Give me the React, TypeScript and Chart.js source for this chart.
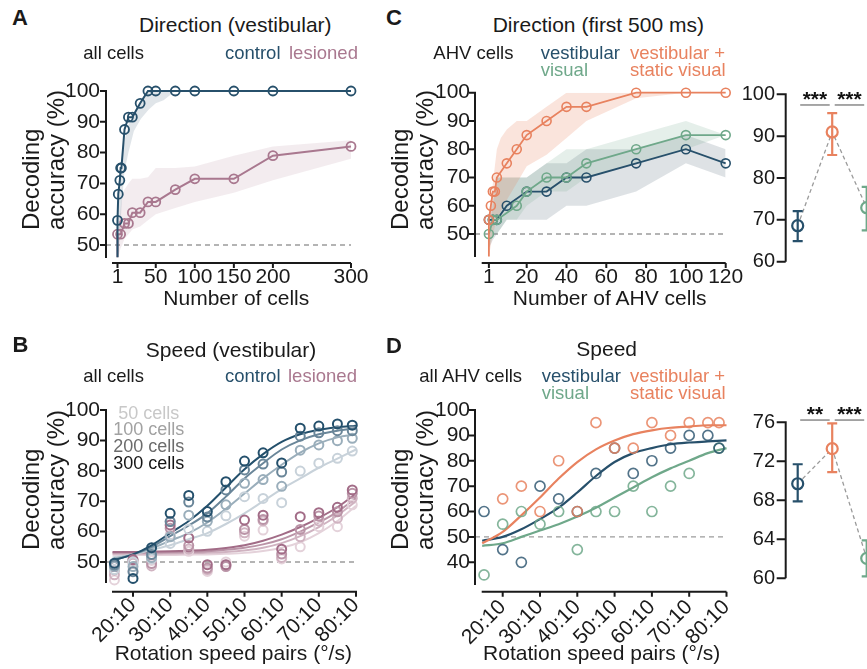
import React, { useEffect, useRef } from 'react';
import { Chart, registerables } from 'chart.js';

Chart.register(...registerables);

const FONT = "'Liberation Sans', Arial, Helvetica, sans-serif";
Chart.defaults.font.family = FONT;

const INK = '#1a1a1a';
const BLUE = '#27506b';
const PINK = '#a9788f';
const ORANGE = '#e8825f';
const GREEN = '#6fa88a';

// ===== Panel A: Direction (vestibular) =====
const aXTicks = [1, 50, 100, 150, 200, 300];
const accTicks = [50, 60, 70, 80, 90, 100];
const aCtrlN = [1, 1, 2, 4, 5, 6, 10, 15, 20, 30, 40, 50, 75, 100, 150, 200, 300];
const aCtrlAcc = [46, 58, 66.5, 71, 75, 75, 87.5, 91.5, 91.5, 96, 100, 100, 100, 100, 100, 100, 100];
const aLesN = [1, 1, 5, 10, 15, 20, 30, 40, 50, 75, 100, 150, 200, 300];
const aLesAcc = [46, 53.5, 53.5, 57, 57, 60.5, 60.5, 64, 64, 68, 71.5, 71.5, 79, 82];
const aCtrlBandN = [1, 2, 4, 6, 10, 15, 22, 31, 41, 50, 60, 75];
const aCtrlBandLo = [46, 47, 52, 62, 74, 80, 87, 91, 94, 96, 97, 100];
const aCtrlBandHi = [47, 60, 70, 77, 84, 89, 93, 97, 100, 100, 100, 100];
const aLesBandN = [1, 3, 5, 7, 10, 15, 20, 30, 40, 50, 75, 100, 150, 200, 300];
const aLesBandLo = [46, 47, 49, 50, 52, 53.5, 55, 56, 58, 60, 62, 64, 67, 71, 78];
const aLesBandHi = [47, 56, 62, 66, 68, 70, 71.5, 71.5, 72, 75, 75, 75.5, 79, 82, 84];

// ===== Panel B: Speed (vestibular) =====
const speedTicks = [20, 30, 40, 50, 60, 70, 80];
const speedTickLabels = ['20:10', '30:10', '40:10', '50:10', '60:10', '70:10', '80:10'];
const bSpeed = [15, 20, 25, 30, 35, 40, 45, 50, 55, 60, 65, 70, 75, 79];
const bCtrl300 = [49.6, 44.6, 54.7, 66, 71.9, 66.6, 76.4, 83.2, 85.9, 82.6, 94, 94.7, 95.4, 95];
const bCtrl200 = [49, 46.8, 52.5, 63.3, 69.7, 64.8, 73.7, 80.3, 82.2, 79.6, 91.4, 92.5, 93.2, 93.2];
const bCtrl100 = [48.5, 48.5, 51.5, 58.3, 65.4, 63.4, 68.8, 75.9, 77.1, 74.9, 86.8, 88.5, 89.9, 90.7];
const bCtrl50 = [47.5, 50, 51, 56.1, 60.8, 60.1, 65.2, 71.5, 70.9, 69.5, 79.9, 82.5, 84.1, 86.5];
const bLes300 = [48.5, 50.8, 51.3, 62.2, 57.9, 49.1, 49.1, 63.8, 65.4, 54.2, 64.9, 66.2, 68, 73.7];
const bLes200 = [47.4, 50.5, 49.5, 61.1, 55.4, 48, 48.5, 60.7, 64, 52.6, 60.7, 65.1, 66.5, 72.6];
const bLes100 = [45.8, 49.6, 48.7, 63.3, 54.3, 47.5, 49, 59.6, 63.5, 51.5, 58.3, 63.5, 64.4, 71];
const bLes50 = [44.1, 47, 50.5, 59, 53.5, 46.9, 50, 58.5, 60.5, 51, 55, 61.6, 61.6, 68.8];
const fitSpeed = [14.5, 20, 25, 30, 35, 40, 45, 50, 55, 60, 65, 70, 75, 80];
const bCtrl300Fit = [50.5, 52.5, 55.5, 59.5, 63.5, 68.5, 74.5, 80.5, 85.5, 89.5, 92, 93.5, 94.3, 94.8];
const bCtrl200Fit = [50.5, 52.5, 55, 58.5, 62, 66, 71.5, 77.5, 82.5, 87, 90, 92, 93.2, 94];
const bCtrl100Fit = [51, 52.5, 54.5, 57, 59.5, 63, 67.5, 72.5, 77.5, 82, 86, 89, 91, 92];
const bCtrl50Fit = [51.5, 52.5, 54, 55.5, 57.5, 59.5, 62.5, 66, 70, 74, 77.5, 81, 84, 87];
const bLes300Fit = [53.3, 53.3, 53.4, 53.5, 53.7, 54, 54.6, 55.5, 57, 59, 61.5, 64.5, 68, 72.5];
const bLes200Fit = [53, 53, 53.1, 53.2, 53.3, 53.5, 54, 54.7, 55.8, 57.5, 60, 63, 66.5, 71];
const bLes100Fit = [52.7, 52.7, 52.7, 52.8, 52.9, 53, 53.3, 53.8, 54.7, 56.2, 58.5, 61.5, 65.3, 70];
const bLes50Fit = [52.3, 52.3, 52.3, 52.3, 52.4, 52.5, 52.7, 53, 53.6, 54.7, 56.5, 59.5, 63.5, 68.5];
const cellCountLabels = ['50 cells', '100 cells', '200 cells', '300 cells'];

// ===== Panel C: Direction (first 500 ms) =====
const cXTicks = [1, 20, 40, 60, 80, 100, 120];
const cOrangeN = [1, 1, 2, 3, 4, 5, 10, 15, 20, 30, 40, 50, 75, 100, 120];
const cOrangeAcc = [42, 55, 60, 65, 65, 70, 75, 80, 85, 90, 95, 95, 100, 100, 100];
const cBlueN = [1, 3, 5, 10, 20, 30, 40, 50, 75, 100, 120];
const cBlueAcc = [55, 55, 55, 60, 65, 65, 70, 70, 75, 80, 75];
const cGreenN = [1, 3, 5, 15, 20, 30, 40, 50, 75, 100, 120];
const cGreenAcc = [50, 55, 55, 60, 65, 70, 70, 75, 80, 85, 85];
const cOrangeBandN = [1, 3, 5, 7, 10, 15, 20, 30, 40, 50, 75, 100, 120];
const cOrangeBandLo = [42, 50, 55, 58, 62, 68, 74, 78, 84, 90, 98, 100, 100];
const cOrangeBandHi = [50, 68, 80, 84, 87, 90, 90, 95, 100, 100, 100, 100, 100];
const cBlueBandN = [1, 3, 5, 10, 20, 30, 40, 50, 75, 100, 120];
const cBlueBandLo = [45, 48, 50, 55, 55, 55, 60, 60, 65, 75, 70];
const cBlueBandHi = [55, 62, 70, 70, 70, 75, 75, 80, 80, 85, 80];
const cGreenBandN = [1, 3, 5, 10, 15, 20, 30, 40, 50, 75, 100, 120];
const cGreenBandLo = [45, 50, 50, 55, 55, 60, 65, 65, 70, 75, 80, 85];
const cGreenBandHi = [50, 60, 70, 70, 70, 70, 75, 80, 80, 85, 90, 85];

// ===== Right summary panels =====
const condIndex = [0, 1, 2];
const condColors = [BLUE, ORANGE, GREEN];
const cRightMean = [68.6, 91, 72.9];
const cRightLo = [64.9, 85.5, 67.5];
const cRightHi = [72.1, 95.5, 77.9];
const cRightTicks = [60, 70, 80, 90, 100];
const cSig = ['***', '***'];
const dRightMean = [69.7, 73.3, 62.05];
const dRightLo = [67.9, 70.9, 60.2];
const dRightHi = [71.7, 75.9, 63.9];
const dRightTicks = [60, 64, 68, 72, 76];
const dSig = ['**', '***'];

// ===== Panel D: Speed =====
const dYTicks = [40, 50, 60, 70, 80, 90, 100];
const dSpeed = [15, 20, 25, 30, 35, 40, 45, 50, 55, 60, 65, 70, 75, 78];
const dBlueAcc = [60, 45, 40, 70, 65, 60, 75, 85, 75, 80, 85, 90, 90, 85];
const dOrangeAcc = [null, 65, 70, 60, 80, 60, 95, 85, 85, 95, 90, 95, 95, 95];
const dGreenAcc = [35, 55, 60, 55, 60, 45, 60, 60, 70, 60, 70, 75, null, 85];
const dOrangeFit = [47.5, 52, 58.5, 65.5, 73, 79.5, 84.5, 88, 90.5, 92, 93, 93.5, 94, 94];
const dBlueFit = [48.5, 50, 53, 57, 61.5, 67.5, 74, 79.5, 83, 85, 86.5, 87.2, 87.6, 88];
const dGreenFit = [46.5, 47.5, 50, 52.5, 55, 58, 61.5, 65.5, 69.5, 73.5, 77, 80, 83, 85];

// ---------- helpers ----------
const pts = (xs: number[], ys: (number | null)[]) =>
  xs.map((x, i) => ({ x, y: ys[i] })).filter((p) => p.y !== null && p.y !== undefined);

const TRANSPARENT = 'rgba(0,0,0,0)';

const lineDs = (xs: number[], ys: number[], color: string, r = 4.5, bw = 2, pbw = 1.8) => ({
  data: pts(xs, ys),
  borderColor: color,
  borderWidth: bw,
  pointRadius: (ctx: any) => (ctx.dataIndex === 0 && ys[0] < ys[1] - 5 ? 0 : r),
  pointBorderWidth: pbw,
  pointBorderColor: color,
  pointBackgroundColor: TRANSPARENT,
  tension: 0,
  fill: false,
  clip: false,
  order: 1,
});

const scatterDs = (xs: number[], ys: (number | null)[], color: string, r = 4.5, pbw = 2) => ({
  data: pts(xs, ys),
  showLine: false,
  pointRadius: r,
  pointBorderWidth: pbw,
  pointBorderColor: color,
  pointBackgroundColor: TRANSPARENT,
  clip: false,
  order: 1,
});

const fitDs = (xs: number[], ys: number[], color: string, bw = 2) => ({
  data: pts(xs, ys),
  borderColor: color,
  borderWidth: bw,
  pointRadius: 0,
  cubicInterpolationMode: 'monotone',
  fill: false,
  clip: false,
  order: 2,
});

const bandDs = (xs: number[], lo: number[], hi: number[], color: string) => [
  { data: pts(xs, lo), borderColor: TRANSPARENT, borderWidth: 0.01, pointRadius: 0, fill: false, clip: false, order: 10 },
  { data: pts(xs, hi), borderColor: TRANSPARENT, borderWidth: 0.01, pointRadius: 0, fill: '-1', backgroundColor: color, clip: false, order: 10 },
];

type Decor = {
  yGap: number;
  yTickLen: number;
  yTicks: number[];
  xGap?: number;
  xTickLen?: number;
  xTicks?: number[];
  ref?: number;
  err?: { x: number[]; lo: number[]; hi: number[]; colors: string[]; cap: number };
  sig?: { y: number; labels: string[] };
};

const decor = (d: Decor) => ({
  id: 'decor',
  beforeDatasetsDraw(chart: any) {
    const { ctx, chartArea: a, scales } = chart;
    if (d.ref !== undefined) {
      const py = scales.y.getPixelForValue(d.ref);
      ctx.save();
      ctx.strokeStyle = '#9c9c9c';
      ctx.lineWidth = 1.3;
      ctx.setLineDash([5, 4]);
      ctx.beginPath();
      ctx.moveTo(a.left - d.yGap, py);
      ctx.lineTo(a.right, py);
      ctx.stroke();
      ctx.restore();
    }
  },
  afterDatasetsDraw(chart: any) {
    const { ctx, chartArea: a, scales } = chart;
    const x = scales.x;
    const y = scales.y;
    ctx.save();
    ctx.strokeStyle = INK;
    ctx.lineWidth = 2;
    const ax = a.left - d.yGap;
    ctx.beginPath();
    ctx.moveTo(ax, a.top - 1);
    ctx.lineTo(ax, a.bottom);
    d.yTicks.forEach((v) => {
      const py = y.getPixelForValue(v);
      ctx.moveTo(ax - d.yTickLen, py);
      ctx.lineTo(ax, py);
    });
    ctx.stroke();
    if (d.xGap !== undefined && d.xTicks) {
      const ay = a.bottom + d.xGap;
      ctx.beginPath();
      ctx.moveTo(a.left, ay);
      ctx.lineTo(a.right, ay);
      d.xTicks.forEach((v) => {
        const px = x.getPixelForValue(v);
        ctx.moveTo(px, ay);
        ctx.lineTo(px, ay + (d.xTickLen || 5));
      });
      ctx.stroke();
    }
    if (d.err) {
      const e = d.err;
      e.x.forEach((xv, i) => {
        const px = x.getPixelForValue(xv);
        const plo = y.getPixelForValue(e.lo[i]);
        const phi = y.getPixelForValue(e.hi[i]);
        ctx.strokeStyle = e.colors[i];
        ctx.lineWidth = 2.2;
        ctx.beginPath();
        ctx.moveTo(px, plo);
        ctx.lineTo(px, phi);
        ctx.moveTo(px - e.cap, plo);
        ctx.lineTo(px + e.cap, plo);
        ctx.moveTo(px - e.cap, phi);
        ctx.lineTo(px + e.cap, phi);
        ctx.stroke();
      });
    }
    if (d.sig && d.err) {
      const py = y.getPixelForValue(d.sig.y);
      d.sig.labels.forEach((lab, i) => {
        const x1 = x.getPixelForValue(d.err!.x[i]) + 2.5;
        const x2 = x.getPixelForValue(d.err!.x[i + 1]) - 2.5;
        ctx.strokeStyle = '#8a8a8a';
        ctx.lineWidth = 1.5;
        ctx.beginPath();
        ctx.moveTo(x1, py);
        ctx.lineTo(x2, py);
        ctx.stroke();
        ctx.fillStyle = '#111';
        ctx.font = `bold 21px ${FONT}`;
        ctx.textAlign = 'center';
        ctx.textBaseline = 'alphabetic';
        ctx.fillText(lab, (x1 + x2) / 2, py + 1);
      });
    }
    ctx.restore();
  },
});

type Cfg = {
  datasets: any[];
  xMin: number;
  xMax: number;
  yMin: number;
  yMax: number;
  xTicks: number[];
  yTicks: number[];
  xLabel?: (v: number) => string;
  rot?: number;
  xPad?: number;
  yPad: number;
  showX?: boolean;
  yFont?: number;
  decor: Decor;
};

function makeConfig(p: Cfg) {
  return {
    type: 'line',
    data: { datasets: p.datasets },
    options: {
      responsive: false,
      maintainAspectRatio: false,
      animation: false,
      events: [],
      plugins: { legend: { display: false }, tooltip: { enabled: false } },
      scales: {
        x: {
          type: 'linear',
          min: p.xMin,
          max: p.xMax,
          grid: { display: false, drawTicks: false },
          border: { display: false },
          afterBuildTicks: (s: any) => {
            s.ticks = p.xTicks.map((v) => ({ value: v }));
          },
          ticks: {
            display: p.showX !== false,
            autoSkip: false,
            minRotation: p.rot || 0,
            maxRotation: p.rot || 0,
            padding: p.xPad ?? 7,
            color: INK,
            font: { size: 21, family: FONT },
            callback: (v: number) => (p.xLabel ? p.xLabel(v) : String(v)),
          },
        },
        y: {
          type: 'linear',
          min: p.yMin,
          max: p.yMax,
          grid: { display: false, drawTicks: false },
          border: { display: false },
          afterBuildTicks: (s: any) => {
            s.ticks = p.yTicks.map((v) => ({ value: v }));
          },
          ticks: {
            autoSkip: false,
            padding: p.yPad,
            color: INK,
            font: { size: p.yFont || 21, family: FONT },
            callback: (v: number) => String(v),
          },
        },
      },
    },
    plugins: [decor(p.decor)],
  };
}

type Box = { L: number; T: number; R: number; B: number };

function ChartCanvas({ box, config }: { box: Box; config: () => any }) {
  const ref = useRef<HTMLCanvasElement | null>(null);
  const left = Math.floor(box.L - 90);
  const top = Math.floor(box.T - 40);
  const width = Math.ceil(box.R + 40) - left;
  const height = Math.ceil(box.B + 100) - top;
  useEffect(() => {
    if (!ref.current) return;
    const cfg = config();
    const yw = box.L - left;
    const pt = box.T - top;
    const pr = left + width - box.R;
    const xh = top + height - box.B;
    cfg.options.layout = { padding: { left: 0, top: pt, right: pr, bottom: 0 } };
    cfg.options.scales.y.afterFit = (s: any) => {
      s.width = yw;
      s.paddingTop = 0;
      s.paddingBottom = 0;
    };
    cfg.options.scales.x.afterFit = (s: any) => {
      s.height = xh;
      s.paddingLeft = 0;
      s.paddingRight = 0;
    };
    const chart = new Chart(ref.current, cfg);
    return () => chart.destroy();
  }, []);
  return (
    <canvas
      ref={ref}
      width={width}
      height={height}
      style={{ position: 'absolute', left, top, width, height }}
    />
  );
}

// ---------- geometry ----------
const boxA: Box = { L: 112, T: 91, R: 351, B: 258 };
const boxB: Box = { L: 112, T: 410, R: 357, B: 583 };
const boxC: Box = { L: 481.7, T: 92.7, R: 725.7, B: 257 };
const boxCR: Box = { L: 790, T: 94.3, R: 900, B: 261.7 };
const boxD: Box = { L: 481.7, T: 410, R: 726.5, B: 585 };
const boxDR: Box = { L: 790, T: 422.3, R: 900, B: 578.3 };

const speedLabel = (v: number) => speedTickLabels[speedTicks.indexOf(v)] || '';

const cfgA = () =>
  makeConfig({
    datasets: [
      lineDs(aCtrlN, aCtrlAcc, BLUE),
      lineDs(aLesN, aLesAcc, PINK),
      ...bandDs(aCtrlBandN, aCtrlBandLo, aCtrlBandHi, 'rgba(60,95,120,0.16)'),
      ...bandDs(aLesBandN, aLesBandLo, aLesBandHi, 'rgba(169,120,143,0.14)'),
    ],
    xMin: -6.04,
    xMax: 300,
    yMin: 45.78,
    yMax: 100,
    xTicks: aXTicks,
    yTicks: accTicks,
    xPad: 7,
    yPad: 12,
    decor: { yGap: 6, yTickLen: 6, yTicks: accTicks, xGap: 5, xTickLen: 5, xTicks: aXTicks, ref: 50 },
  });

const bCtrlColors = ['#24506c', '#6a8699', '#9aaebb', '#c8d2da'];
const bLesColors = ['#a26c87', '#ba94a7', '#d0b3c1', '#e4d2da'];

const cfgB = () => {
  const ctrl = [bCtrl300, bCtrl200, bCtrl100, bCtrl50];
  const ctrlFit = [bCtrl300Fit, bCtrl200Fit, bCtrl100Fit, bCtrl50Fit];
  const les = [bLes300, bLes200, bLes100, bLes50];
  const lesFit = [bLes300Fit, bLes200Fit, bLes100Fit, bLes50Fit];
  const ds: any[] = [];
  for (let i = 0; i < 4; i++) {
    ds.push(fitDs(fitSpeed, ctrlFit[i], bCtrlColors[i]));
    ds.push(scatterDs(bSpeed, ctrl[i], bCtrlColors[i]));
  }
  for (let i = 0; i < 4; i++) {
    ds.push(fitDs(fitSpeed, lesFit[i], bLesColors[i]));
    ds.push(scatterDs(bSpeed, les[i], bLesColors[i]));
  }
  return makeConfig({
    datasets: ds,
    xMin: 14.35,
    xMax: 80.27,
    yMin: 43.09,
    yMax: 100,
    xTicks: speedTicks,
    yTicks: accTicks,
    xLabel: speedLabel,
    rot: 45,
    xPad: 10,
    yPad: 12,
    decor: { yGap: 6, yTickLen: 6, yTicks: accTicks, xGap: 8.7, xTickLen: 5, xTicks: speedTicks, ref: 50 },
  });
};

const cfgC = () =>
  makeConfig({
    datasets: [
      lineDs(cOrangeN, cOrangeAcc, ORANGE, 4.5, 1.8, 1.6),
      lineDs(cGreenN, cGreenAcc, GREEN, 4.5, 1.8, 1.6),
      lineDs(cBlueN, cBlueAcc, BLUE, 4.5, 1.8, 1.6),
      ...bandDs(cOrangeBandN, cOrangeBandLo, cOrangeBandHi, 'rgba(232,130,95,0.22)'),
      ...bandDs(cGreenBandN, cGreenBandLo, cGreenBandHi, 'rgba(111,168,138,0.18)'),
      ...bandDs(cBlueBandN, cBlueBandLo, cBlueBandHi, 'rgba(60,85,100,0.17)'),
    ],
    xMin: -2.61,
    xMax: 120,
    yMin: 41.86,
    yMax: 100,
    xTicks: cXTicks,
    yTicks: accTicks,
    xPad: 8,
    yPad: 11.7,
    decor: { yGap: 6.7, yTickLen: 6, yTicks: accTicks, xGap: 6, xTickLen: 5, xTicks: cXTicks, ref: 50 },
  });

const rightConfig = (mean: number[], lo: number[], hi: number[], ticks: number[], sig: string[], sigY: number) => () =>
  makeConfig({
    datasets: [
      {
        data: pts(condIndex, mean),
        showLine: true,
        borderColor: '#9a9a9a',
        borderDash: [4, 3],
        borderWidth: 1.3,
        pointRadius: 0,
        fill: false,
        clip: false,
        order: 2,
      },
      {
        data: pts(condIndex, mean),
        showLine: false,
        pointRadius: 5.5,
        pointBorderWidth: 2.2,
        pointBorderColor: condColors,
        pointBackgroundColor: '#ffffff',
        clip: false,
        order: 1,
      },
    ],
    xMin: -0.2232,
    xMax: 2.965,
    yMin: ticks[0],
    yMax: ticks[ticks.length - 1],
    xTicks: condIndex,
    yTicks: ticks,
    showX: false,
    yPad: 15,
    yFont: 20,
    decor: {
      yGap: 4.3,
      yTickLen: 9,
      yTicks: ticks,
      err: { x: condIndex, lo, hi, colors: condColors, cap: 5 },
      sig: { y: sigY, labels: sig },
    },
  });

const cfgCR = rightConfig(cRightMean, cRightLo, cRightHi, cRightTicks, cSig, 97.45);
const cfgDR = rightConfig(dRightMean, dRightLo, dRightHi, dRightTicks, dSig, 76.23);

const cfgD = () =>
  makeConfig({
    datasets: [
      fitDs(fitSpeed, dOrangeFit, ORANGE, 2.2),
      fitDs(fitSpeed, dBlueFit, BLUE, 2.2),
      fitDs(fitSpeed, dGreenFit, GREEN, 2.2),
      scatterDs(dSpeed, dOrangeAcc, 'rgba(232,130,95,0.85)', 5, 1.7),
      scatterDs(dSpeed, dBlueAcc, 'rgba(39,80,107,0.8)', 5, 1.7),
      scatterDs(dSpeed, dGreenAcc, 'rgba(111,168,138,0.85)', 5, 1.7),
    ],
    xMin: 14.37,
    xMax: 80,
    yMin: 31.05,
    yMax: 100,
    xTicks: speedTicks,
    yTicks: dYTicks,
    xLabel: speedLabel,
    rot: 45,
    xPad: 10,
    yPad: 11.7,
    decor: { yGap: 6.7, yTickLen: 6, yTicks: dYTicks, xGap: 6.7, xTickLen: 5, xTicks: speedTicks, ref: 50 },
  });

// ---------- text ----------
type TP = { x: number; y: number; s: number; c?: string; a?: 'left' | 'center' | 'right'; b?: boolean; children: React.ReactNode };
const T = ({ x, y, s, c = INK, a = 'left', b = false, children }: TP) => (
  <div
    style={{
      position: 'absolute',
      left: x,
      top: y - 0.8465 * s,
      fontSize: s,
      lineHeight: `${s}px`,
      whiteSpace: 'nowrap',
      color: c,
      fontWeight: b ? 700 : 400,
      fontFamily: FONT,
      transform: a === 'center' ? 'translateX(-50%)' : a === 'right' ? 'translateX(-100%)' : undefined,
    }}
  >
    {children}
  </div>
);

const YTitle = ({ x, y }: { x: number; y: number }) => (
  <div
    style={{
      position: 'absolute',
      left: x,
      top: y,
      transformOrigin: 'left top',
      transform: 'rotate(-90deg)',
      fontSize: 24,
      lineHeight: '24.5px',
      whiteSpace: 'nowrap',
      fontFamily: FONT,
      color: INK,
    }}
  >
    <div>Decoding</div>
    <div>accuracy (%)</div>
  </div>
);

const legendGreys = ['#c8c8c8', '#a2a2a2', '#6c6c6c', '#151515'];

export default function App() {
  return (
    <div
      style={{
        position: 'absolute',
        left: 0,
        top: 0,
        width: 867,
        height: 669,
        overflow: 'hidden',
        background: '#ffffff',
        fontFamily: FONT,
      }}
    >
      <ChartCanvas box={boxA} config={cfgA} />
      <ChartCanvas box={boxB} config={cfgB} />
      <ChartCanvas box={boxC} config={cfgC} />
      <ChartCanvas box={boxCR} config={cfgCR} />
      <ChartCanvas box={boxD} config={cfgD} />
      <ChartCanvas box={boxDR} config={cfgDR} />

      {/* panel letters */}
      <T x={12} y={26} s={22} b>A</T>
      <T x={12.5} y={353} s={22} b>B</T>
      <T x={386} y={26} s={22} b>C</T>
      <T x={386} y={354} s={22} b>D</T>

      {/* titles */}
      <T x={235.3} y={31.5} s={21} a="center">Direction (vestibular)</T>
      <T x={598.3} y={31.5} s={21} a="center">Direction (first 500 ms)</T>
      <T x={231} y={356.5} s={21} a="center">Speed (vestibular)</T>
      <T x={606.7} y={356} s={21} a="center">Speed</T>

      {/* subtitles A */}
      <T x={83.3} y={60} s={18.5}>all cells</T>
      <T x={280.5} y={60} s={18.5} c={BLUE} a="right">control</T>
      <T x={289} y={60} s={18.5} c={PINK}>lesioned</T>
      {/* subtitles B */}
      <T x={83.3} y={382.3} s={18.5}>all cells</T>
      <T x={280.5} y={382.3} s={18.5} c={BLUE} a="right">control</T>
      <T x={288} y={382.3} s={18.5} c={PINK}>lesioned</T>
      {/* subtitles C */}
      <T x={433.3} y={59.5} s={18.5}>AHV cells</T>
      <T x={540.7} y={59.5} s={18.5} c={BLUE}>vestibular</T>
      <T x={540.7} y={76.3} s={18.5} c={GREEN}>visual</T>
      <T x={630} y={59.5} s={18.5} c={ORANGE}>vestibular +</T>
      <T x={630} y={76.5} s={18.5} c={ORANGE}>static visual</T>
      {/* subtitles D */}
      <T x={419.3} y={382.5} s={18.5}>all AHV cells</T>
      <T x={541.7} y={382.5} s={18.5} c={BLUE}>vestibular</T>
      <T x={541.7} y={400} s={18.5} c={GREEN}>visual</T>
      <T x={630} y={382.5} s={18.5} c={ORANGE}>vestibular +</T>
      <T x={630} y={400} s={18.5} c={ORANGE}>static visual</T>

      {/* B legend */}
      <T x={118.3} y={419} s={18} c={legendGreys[0]}>{cellCountLabels[0]}</T>
      <T x={113.3} y={435.7} s={18} c={legendGreys[1]}>{cellCountLabels[1]}</T>
      <T x={113.3} y={452.3} s={18} c={legendGreys[2]}>{cellCountLabels[2]}</T>
      <T x={113.3} y={469} s={18} c={legendGreys[3]}>{cellCountLabels[3]}</T>

      {/* axis titles */}
      <T x={236.3} y={305} s={21} a="center">Number of cells</T>
      <T x={609.7} y={305} s={21} a="center">Number of AHV cells</T>
      <T x={233.3} y={660} s={21} a="center">Rotation speed pairs (°/s)</T>
      <T x={601.7} y={660} s={21} a="center">Rotation speed pairs (°/s)</T>

      <YTitle x={18.9} y={230} />
      <YTitle x={18.9} y={550} />
      <YTitle x={387.9} y={230} />
      <YTitle x={387.9} y={550} />
    </div>
  );
}
